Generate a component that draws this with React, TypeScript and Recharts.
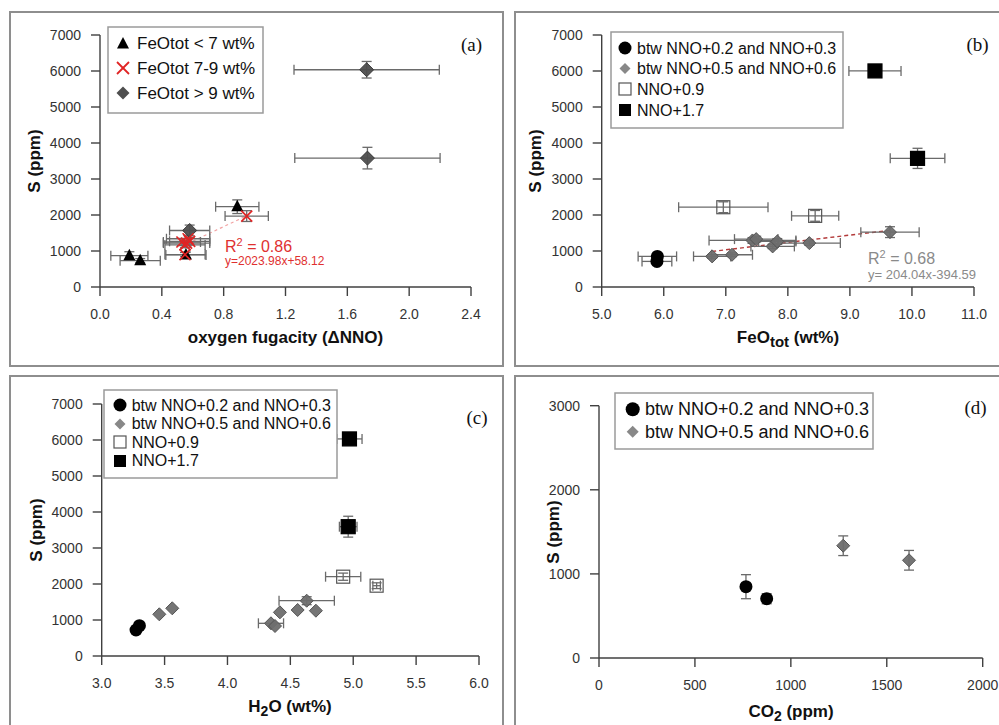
import React from 'react';
import { ScatterChart, Scatter, XAxis, YAxis, ErrorBar, ReferenceLine } from 'recharts';

const W = 999;
const H = 725;
const FONT = '"Liberation Sans", Arial, sans-serif';

// ---------- Panel (a): S vs oxygen fugacity (ΔNNO)
const aXTicks = [0, 0.4, 0.8, 1.2, 1.6, 2.0, 2.4];
const sTicks7000 = [0, 1000, 2000, 3000, 4000, 5000, 6000, 7000];
const aLowFe = [
  { x: 0.19, y: 870, ex: 0.12, ey: 110 },
  { x: 0.26, y: 730, ex: 0.13, ey: 60 },
  { x: 0.556, y: 890, ex: 0.13, ey: 80 },
  { x: 0.888, y: 2230, ex: 0.14, ey: 190 },
];
const aMidFe = [
  { x: 0.55, y: 900, ex: 0.13, ey: 60 },
  { x: 0.53, y: 1250, ex: 0.12, ey: 100 },
  { x: 0.57, y: 1340, ex: 0.14, ey: 100 },
  { x: 0.55, y: 1170, ex: 0.13, ey: 80 },
  { x: 0.58, y: 1270, ex: 0.13, ey: 100 },
  { x: 0.56, y: 1220, ex: 0.15, ey: 80 },
  { x: 0.949, y: 1970, ex: 0.14, ey: 150 },
];
const aHighFe = [
  { x: 0.58, y: 1570, ex: 0.13, ey: 150 },
  { x: 1.725, y: 6035, ex: 0.47, ey: 230 },
  { x: 1.73, y: 3580, ex: 0.47, ey: 300 },
];
const aFit = { slope: 2023.98, intercept: 58.12, from: 0.53, to: 0.95 };

// ---------- Panel (b): S vs FeOtot
const bXTicks = [5, 6, 7, 8, 9, 10, 11];
const bNNO02 = [
  { x: 5.897, y: 850, ex: 0.31, ey: 60 },
  { x: 5.89, y: 711, ex: 0.24, ey: 50 },
];
const bNNO05 = [
  { x: 6.78, y: 850, ex: 0.3, ey: 50 },
  { x: 7.1, y: 896, ex: 0.33, ey: 50 },
  { x: 7.43, y: 1293, ex: 0.7, ey: 80 },
  { x: 7.49, y: 1330, ex: 0.35, ey: 80 },
  { x: 7.755, y: 1127, ex: 0.35, ey: 60 },
  { x: 7.83, y: 1265, ex: 0.3, ey: 80 },
  { x: 8.346, y: 1219, ex: 0.5, ey: 60 },
  { x: 9.646, y: 1524, ex: 0.47, ey: 150 },
];
const bNNO09 = [
  { x: 6.96, y: 2216, ex: 0.72, ey: 150 },
  { x: 8.44, y: 1976, ex: 0.38, ey: 150 },
];
const bNNO17 = [
  { x: 9.404, y: 6002, ex: 0.42, ey: 150 },
  { x: 10.09, y: 3573, ex: 0.44, ey: 280 },
];
const bFit = { slope: 204.04, intercept: -394.59, from: 6.78, to: 9.65 };

// ---------- Panel (c): S vs H2O
const cXTicks = [3, 3.5, 4, 4.5, 5, 5.5, 6];
const cNNO02 = [
  { x: 3.273, y: 722, ex: 0, ey: 0 },
  { x: 3.3, y: 842, ex: 0, ey: 0 },
];
const cNNO05 = [
  { x: 3.458, y: 1158, ex: 0, ey: 0 },
  { x: 3.561, y: 1325, ex: 0, ey: 0 },
  { x: 4.346, y: 908, ex: 0.1, ey: 0 },
  { x: 4.378, y: 833, ex: 0, ey: 0 },
  { x: 4.417, y: 1213, ex: 0, ey: 0 },
  { x: 4.558, y: 1278, ex: 0, ey: 0 },
  { x: 4.63, y: 1536, ex: 0.22, ey: 110 },
  { x: 4.703, y: 1258, ex: 0, ey: 0 },
];
const cNNO09 = [
  { x: 4.92, y: 2203, ex: 0.14, ey: 100 },
  { x: 5.186, y: 1953, ex: 0.03, ey: 80 },
];
const cNNO17 = [
  { x: 4.97, y: 6030, ex: 0.1, ey: 150 },
  { x: 4.96, y: 3592, ex: 0.07, ey: 290 },
];

// ---------- Panel (d): S vs CO2
const dXTicks = [0, 500, 1000, 1500, 2000];
const dYTicks = [0, 1000, 2000, 3000];
const dNNO02 = [
  { x: 766, y: 848, ey: 143 },
  { x: 874, y: 705, ey: 60 },
];
const dNNO05 = [
  { x: 1273, y: 1335, ey: 117 },
  { x: 1616, y: 1162, ey: 117 },
];

// ---------- legend labels
const aLegend = ['FeOtot < 7 wt%', 'FeOtot 7-9 wt%', 'FeOtot > 9 wt%'];
const nnoLegend = ['btw NNO+0.2 and NNO+0.3', 'btw NNO+0.5 and NNO+0.6', 'NNO+0.9', 'NNO+1.7'];

// ---------- marker shapes
const triPts = (cx: number, cy: number, s: number) =>
  `${cx},${cy - s * 0.58} ${cx - s / 2},${cy + s * 0.38} ${cx + s / 2},${cy + s * 0.38}`;
const diaPts = (cx: number, cy: number, s: number) =>
  `${cx},${cy - s / 2} ${cx + s / 2},${cy} ${cx},${cy + s / 2} ${cx - s / 2},${cy}`;

const Tri = (s: number) => (p: any) => <polygon points={triPts(p.cx, p.cy, s)} fill="#000" />;
const Cross = (s: number, c: string) => (p: any) => (
  <g stroke={c} strokeWidth={1.7} fill="none">
    <line x1={p.cx - s / 2} y1={p.cy - s / 2} x2={p.cx + s / 2} y2={p.cy + s / 2} />
    <line x1={p.cx - s / 2} y1={p.cy + s / 2} x2={p.cx + s / 2} y2={p.cy - s / 2} />
  </g>
);
const Dia = (s: number, fill: string, stroke: string) => (p: any) => (
  <polygon points={diaPts(p.cx, p.cy, s)} fill={fill} stroke={stroke} strokeWidth={1} fillOpacity={0.95} />
);
const Circ = (r: number) => (p: any) => <circle cx={p.cx} cy={p.cy} r={r} fill="#000" />;
const Sq = (s: number, fill: string, stroke: string) => (p: any) => (
  <rect x={p.cx - s / 2} y={p.cy - s / 2} width={s} height={s} fill={fill} stroke={stroke} strokeWidth={1.2} />
);

const axisStroke = { stroke: '#404040', strokeWidth: 1.4 };
const tickStyle = { fill: '#333', fontSize: 14, fontFamily: FONT };
const ebProps = { stroke: '#6a6a6a', strokeWidth: 1.3, width: 5 };

const fmt1 = (v: number) => v.toFixed(1);
const fmt0 = (v: number) => String(v);

const xTitle = (cx: number, baseline: number, body: React.ReactNode) => () => (
  <text x={cx} y={baseline} textAnchor="middle" fontFamily={FONT} fontWeight="bold" fontSize={17} fill="#111">
    {body}
  </text>
);
const yTitle = (cx: number, cy: number) => () => (
  <text
    x={cx}
    y={cy}
    transform={`rotate(-90, ${cx}, ${cy})`}
    textAnchor="middle"
    dominantBaseline="central"
    fontFamily={FONT}
    fontWeight="bold"
    fontSize={17}
    fill="#111"
  >
    S (ppm)
  </text>
);

function Chart(props: {
  margin: { top: number; right: number; bottom: number; left: number };
  xDomain: number[];
  xTicks: number[];
  xFmt: (v: number) => string;
  yDomain: number[];
  yTicks: number[];
  xH: number;
  xLabel: any;
  yLabel: any;
  children: React.ReactNode;
}) {
  return (
    <div style={{ position: 'absolute', left: 0, top: 0 }}>
      <ScatterChart width={W} height={H} margin={props.margin}>
        <XAxis
          type="number"
          dataKey="x"
          domain={props.xDomain}
          ticks={props.xTicks}
          tickFormatter={props.xFmt}
          allowDataOverflow
          interval={0}
          height={props.xH}
          tick={tickStyle}
          tickSize={9}
          tickMargin={13}
          axisLine={axisStroke}
          tickLine={axisStroke}
          label={{ content: props.xLabel }}
        />
        <YAxis
          type="number"
          dataKey="y"
          domain={props.yDomain}
          ticks={props.yTicks}
          allowDataOverflow
          interval={0}
          width={100}
          tick={tickStyle}
          tickSize={9}
          tickMargin={10}
          axisLine={axisStroke}
          tickLine={axisStroke}
          label={{ content: props.yLabel }}
        />
        {props.children}
      </ScatterChart>
    </div>
  );
}

const errBars = (withX: boolean) => [
  ...(withX ? [<ErrorBar key="ex" dataKey="ex" direction="x" {...ebProps} />] : []),
  <ErrorBar key="ey" dataKey="ey" direction="y" {...ebProps} />,
];

function LegendBox(props: { x: number; y: number; w: number; h: number }) {
  return <rect x={props.x} y={props.y} width={props.w} height={props.h} fill="#fff" stroke="#9a9a9a" strokeWidth={1.5} />;
}

export default function App() {
  const aLine = [
    { x: aFit.from, y: aFit.slope * aFit.from + aFit.intercept },
    { x: aFit.to, y: aFit.slope * aFit.to + aFit.intercept },
  ];
  const bLine = [
    { x: bFit.from, y: bFit.slope * bFit.from + bFit.intercept },
    { x: bFit.to, y: bFit.slope * bFit.to + bFit.intercept },
  ];
  const frame = (l: number, t: number, w: number, h: number) => (
    <div
      style={{
        position: 'absolute',
        left: l,
        top: t,
        width: w,
        height: h,
        border: '2px solid #8e8e8e',
        boxSizing: 'border-box',
      }}
    />
  );
  return (
    <div
      style={{
        position: 'absolute',
        left: 0,
        top: 0,
        width: W,
        height: H,
        background: '#fff',
        overflow: 'hidden',
        fontFamily: FONT,
      }}
    >
      {frame(9, 11, 495, 356)}
      {frame(514, 11, 500, 356)}
      {frame(9, 375, 495, 400)}
      {frame(514, 375, 500, 400)}

      {/* Panel (a) */}
      <Chart
        margin={{ top: 35, right: 528, bottom: 378, left: 0 }}
        xDomain={[0, 2.4]}
        xTicks={aXTicks}
        xFmt={fmt1}
        yDomain={[0, 7000]}
        yTicks={sTicks7000}
        xH={60}
        xLabel={xTitle(285.5, 343, 'oxygen fugacity (ΔNNO)')}
        yLabel={yTitle(34.5, 161)}
      >
        <ReferenceLine segment={aLine} stroke="#f2a3a3" strokeDasharray="3 3" strokeWidth={1.2} />
        <Scatter data={aLowFe} shape={Tri(12)} isAnimationActive={false}>
          {errBars(true)}
        </Scatter>
        <Scatter data={aHighFe} shape={Dia(14, '#4e4e4e', '#3a3a3a')} isAnimationActive={false}>
          {errBars(true)}
        </Scatter>
        <Scatter data={aMidFe} shape={Cross(11, '#e02424')} isAnimationActive={false}>
          {errBars(true)}
        </Scatter>
      </Chart>

      {/* Panel (b) */}
      <Chart
        margin={{ top: 35, right: 25, bottom: 378, left: 501.7 }}
        xDomain={[5, 11]}
        xTicks={bXTicks}
        xFmt={fmt1}
        yDomain={[0, 7000]}
        yTicks={sTicks7000}
        xH={60}
        xLabel={xTitle(
          788,
          343,
          <>
            FeO
            <tspan dy={4} fontSize={15}>
              tot
            </tspan>
            <tspan dy={-4}> (wt%)</tspan>
          </>
        )}
        yLabel={yTitle(535, 161)}
      >
        <ReferenceLine segment={bLine} stroke="#b33a3a" strokeDasharray="4 3" strokeWidth={1.4} />
        <Scatter data={bNNO02} shape={Circ(6.5)} isAnimationActive={false}>
          {errBars(true)}
        </Scatter>
        <Scatter data={bNNO05} shape={Dia(13, '#6e6e6e', '#555')} isAnimationActive={false}>
          {errBars(true)}
        </Scatter>
        <Scatter data={bNNO09} shape={Sq(13, 'none', '#555')} isAnimationActive={false}>
          {errBars(true)}
        </Scatter>
        <Scatter data={bNNO17} shape={Sq(14, '#000', '#000')} isAnimationActive={false}>
          {errBars(true)}
        </Scatter>
      </Chart>

      {/* Panel (c) */}
      <Chart
        margin={{ top: 404, right: 520, bottom: 29, left: 1.7 }}
        xDomain={[3, 6]}
        xTicks={cXTicks}
        xFmt={fmt1}
        yDomain={[0, 7000]}
        yTicks={sTicks7000}
        xH={40}
        xLabel={xTitle(
          290,
          712,
          <>
            H
            <tspan dy={4} fontSize={14}>
              2
            </tspan>
            <tspan dy={-4}>O (wt%)</tspan>
          </>
        )}
        yLabel={yTitle(36, 530)}
      >
        <Scatter data={cNNO02} shape={Circ(6.5)} isAnimationActive={false}>
          {errBars(true)}
        </Scatter>
        <Scatter data={cNNO05} shape={Dia(13, '#6e6e6e', '#555')} isAnimationActive={false}>
          {errBars(true)}
        </Scatter>
        <Scatter data={cNNO09} shape={Sq(13, 'none', '#555')} isAnimationActive={false}>
          {errBars(true)}
        </Scatter>
        <Scatter data={cNNO17} shape={Sq(14, '#000', '#000')} isAnimationActive={false}>
          {errBars(true)}
        </Scatter>
      </Chart>

      {/* Panel (d) */}
      <Chart
        margin={{ top: 405.7, right: 16.3, bottom: 27, left: 499 }}
        xDomain={[0, 2000]}
        xTicks={dXTicks}
        xFmt={fmt0}
        yDomain={[0, 3000]}
        yTicks={dYTicks}
        xH={40}
        xLabel={xTitle(
          791,
          717,
          <>
            CO
            <tspan dy={4} fontSize={14}>
              2
            </tspan>
            <tspan dy={-4}> (ppm)</tspan>
          </>
        )}
        yLabel={yTitle(553, 532)}
      >
        <Scatter data={dNNO02} shape={Circ(6.5)} isAnimationActive={false}>
          {errBars(false)}
        </Scatter>
        <Scatter data={dNNO05} shape={Dia(13, '#6e6e6e', '#555')} isAnimationActive={false}>
          {errBars(false)}
        </Scatter>
      </Chart>

      {/* overlay: legends, panel letters, fit annotations */}
      <svg width={W} height={H} style={{ position: 'absolute', left: 0, top: 0, pointerEvents: 'none' }}>
        {/* legend (a) */}
        <LegendBox x={108} y={27} w={155} h={86} />
        <polygon points={triPts(123, 44, 12)} fill="#000" />
        <g stroke="#e02424" strokeWidth={1.8}>
          <line x1={117} y1={62} x2={129} y2={74} />
          <line x1={117} y1={74} x2={129} y2={62} />
        </g>
        <polygon points={diaPts(123, 93, 13)} fill="#4e4e4e" />
        {aLegend.map((t, i) => (
          <text key={t} x={137} y={43 + i * 25} dominantBaseline="central" fontSize={17} fontFamily={FONT} fill="#111">
            {t}
          </text>
        ))}

        {/* legend (b) */}
        <LegendBox x={611} y={32} w={232} h={96} />
        <circle cx={625} cy={48} r={6.5} fill="#000" />
        <polygon points={diaPts(625, 68.5, 11)} fill="#888" />
        <rect x={619} y={83} width={12} height={12} fill="#fff" stroke="#555" strokeWidth={1.2} />
        <rect x={619} y={104} width={12} height={12} fill="#000" />
        {nnoLegend.map((t, i) => (
          <text key={t} x={637} y={48 + i * 20.7} dominantBaseline="central" fontSize={16} fontFamily={FONT} fill="#111">
            {t}
          </text>
        ))}

        {/* legend (c) */}
        <LegendBox x={104} y={390} w={233} h={88} />
        <circle cx={120} cy={405} r={6.5} fill="#000" />
        <polygon points={diaPts(120, 424, 11)} fill="#888" />
        <rect x={114} y={436} width={12} height={12} fill="#fff" stroke="#555" strokeWidth={1.2} />
        <rect x={114} y={455} width={12} height={12} fill="#000" />
        {nnoLegend.map((t, i) => (
          <text key={t} x={131.7} y={405 + i * 18.6} dominantBaseline="central" fontSize={16} fontFamily={FONT} fill="#111">
            {t}
          </text>
        ))}

        {/* legend (d) */}
        <LegendBox x={615} y={393} w={258} h={56} />
        <circle cx={632.7} cy={409.3} r={7} fill="#000" />
        <polygon points={diaPts(632.7, 431.7, 12)} fill="#888" />
        {nnoLegend.slice(0, 2).map((t, i) => (
          <text key={t} x={645} y={409.3 + i * 22.4} dominantBaseline="central" fontSize={18} fontFamily={FONT} fill="#111">
            {t}
          </text>
        ))}

        {/* panel letters */}
        {[
          ['(a)', 471.5, 44],
          ['(b)', 977.5, 44],
          ['(c)', 477, 417],
          ['(d)', 975.5, 407],
        ].map(([t, x, y]) => (
          <text
            key={t as string}
            x={x as number}
            y={y as number}
            textAnchor="middle"
            dominantBaseline="central"
            fontSize={19}
            fontFamily='"Liberation Serif", "Times New Roman", serif'
            fill="#111"
          >
            {t}
          </text>
        ))}

        {/* fit annotations */}
        <text x={225} y={252} fontSize={16} fontFamily={FONT} fill="#e03030">
          R
          <tspan dy={-6} fontSize={11}>
            2
          </tspan>
          <tspan dy={6}> = 0.86</tspan>
        </text>
        <text x={225} y={265} fontSize={12} fontFamily={FONT} fill="#e03030">
          y=2023.98x+58.12
        </text>
        <text x={868} y={264} fontSize={16} fontFamily={FONT} fill="#8a8a8a">
          R
          <tspan dy={-6} fontSize={11}>
            2
          </tspan>
          <tspan dy={6}> = 0.68</tspan>
        </text>
        <text x={868} y={279} fontSize={13} fontFamily={FONT} fill="#8a8a8a">
          y= 204.04x-394.59
        </text>
      </svg>
    </div>
  );
}
